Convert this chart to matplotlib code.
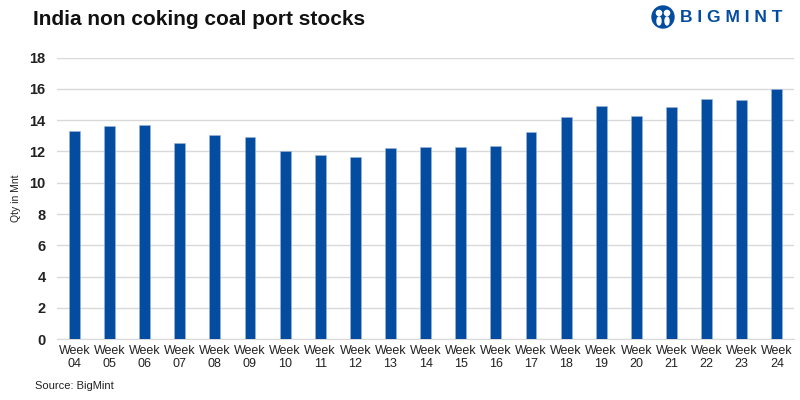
import matplotlib
matplotlib.use("Agg")
import matplotlib.pyplot as plt
from matplotlib.patches import Circle, Ellipse

weeks = ["04", "05", "06", "07", "08", "09", "10", "11", "12", "13", "14",
         "15", "16", "17", "18", "19", "20", "21", "22", "23", "24"]
tick_labels = [f"Week\n{w}" for w in weeks]
stocks = [13.31, 13.63, 13.72, 12.53, 13.04, 12.91, 12.04, 11.80, 11.67, 12.25,
          12.29, 12.29, 12.33, 13.27, 14.21, 14.89, 14.25, 14.87, 15.36, 15.32, 15.98]
yticks = [0, 2, 4, 6, 8, 10, 12, 14, 16, 18]

BLUE = "#044c9f"

fig = plt.figure(figsize=(8, 4), dpi=100)
ax = fig.add_axes([0.071, 0.152, 0.922, 0.704])
x = list(range(len(weeks)))
ax.bar(x, stocks, width=0.31, color=BLUE, zorder=3, edgecolor="#9db7dc", linewidth=0.4)
ax.set_xlim(-0.5, len(weeks) - 0.5)
ax.set_ylim(0, 18)
ax.set_yticks(yticks)
ax.set_yticklabels([str(v) for v in yticks], fontsize=10.5, fontweight="bold",
                   family="Liberation Sans", color="#222222")
ax.set_xticks(x)
ax.set_xticklabels(tick_labels, fontsize=9, family="Liberation Sans",
                   color="#222222", linespacing=1.15)
ax.grid(axis="y", color="#d9d9d9", linewidth=1.0, zorder=0)
for s in ["top", "right", "left"]:
    ax.spines[s].set_visible(False)
ax.spines["bottom"].set_color("#d9d9d9")
ax.tick_params(axis="both", length=0)
ax.tick_params(axis="y", pad=8)
ax.tick_params(axis="x", pad=4)
ax.set_ylabel("Qty in Mnt", fontsize=7.5, family="Liberation Sans", color="#222222")
ax.yaxis.set_label_coords(-0.048, 0.5)

fig.text(0.041, 0.952, "India non coking coal port stocks", fontsize=15, fontweight="bold",
         family="Liberation Sans", color="#111111", va="center", ha="left")
fig.text(0.044, 0.035, "Source: BigMint", fontsize=8, family="Liberation Sans",
         color="#222222", va="center", ha="left")

# logo
lax = fig.add_axes([0.8, 0.915, 0.2, 0.085])
lax.set_xlim(0, 160)
lax.set_ylim(0, 34)
lax.set_aspect("equal")
lax.axis("off")
lax.add_patch(Circle((23, 17), 11, color=BLUE))
lax.add_patch(Circle((19, 21), 2.6, color="white"))
lax.add_patch(Circle((27, 21), 2.6, color="white"))
lax.add_patch(Ellipse((19, 13), 4, 8, color="white"))
lax.add_patch(Ellipse((27, 13), 4, 8, color="white"))
lax.text(40, 16, "B I G M I N T", fontsize=12.5, fontweight="bold", family="Liberation Sans",
         color=BLUE, va="center", ha="left")

fig.savefig("out.png", dpi=100)
